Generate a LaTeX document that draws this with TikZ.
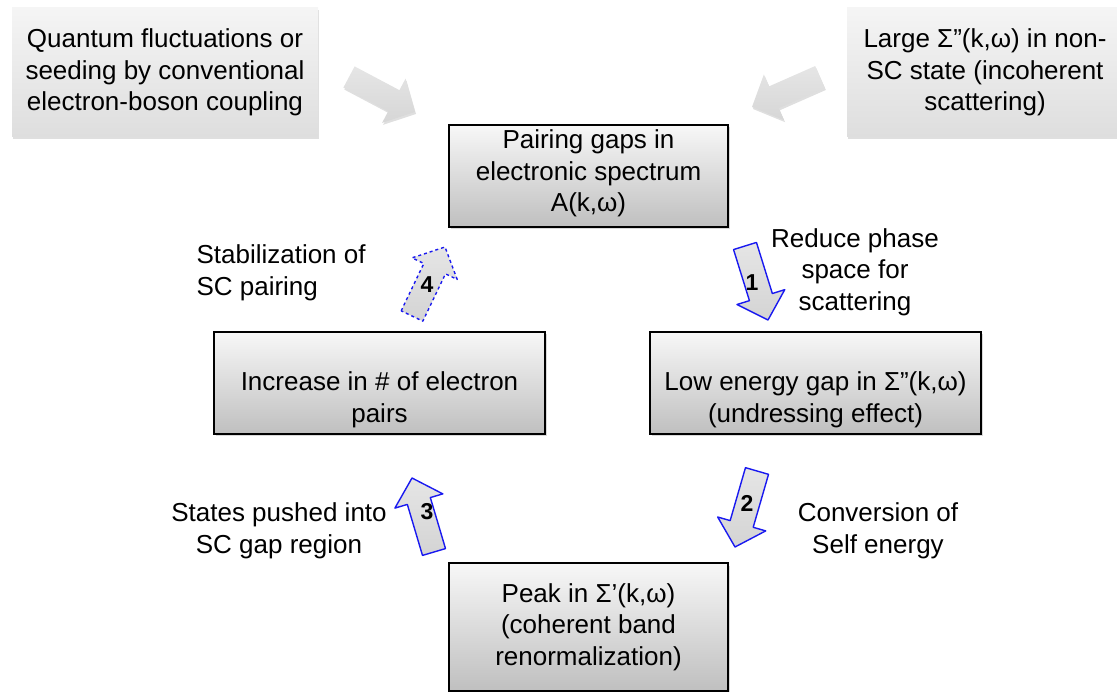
\documentclass[tikz,border=0pt]{standalone}
\usepackage{fontspec}
\setmainfont{Liberation Sans}
\usetikzlibrary{calc, shadows, positioning}

\definecolor{loopblue}{RGB}{25,25,240}

% sizes of the fat arrows
\newcommand{\shaftw}{12pt}
\newcommand{\headw}{25pt}
\newcommand{\headlen}{24pt}

% fat arrow from #2 to #3, drawn with style #1
\newcommand{\fatarrow}[3]{%
  \coordinate (fa-h) at ($(#3)!\headlen!(#2)$);
  \path[#1] ($(#2)!\shaftw!90:(#3)$) -- ($(fa-h)!\shaftw!90:(#3)$)
    -- ($(fa-h)!\headw!90:(#3)$) -- (#3) -- ($(fa-h)!\headw!-90:(#3)$)
    -- ($(fa-h)!\shaftw!-90:(#3)$) -- ($(#2)!\shaftw!-90:(#3)$) -- cycle;
}

\begin{document}
\begin{tikzpicture}[x=1pt, y=-1pt, font=\fontsize{26}{31.5}\selectfont,
    stage/.style={draw=black, line width=2.4pt, top color=black!3, bottom color=black!25,
      align=center, inner sep=0pt,
      drop shadow={shadow xshift=1.5pt, shadow yshift=-2.5pt, opacity=0.3}},
    source/.style={top color=black!4, bottom color=black!13, align=center, inner sep=0pt,
      drop shadow={shadow xshift=1pt, shadow yshift=-2pt, opacity=0.25}},
    greyarrow/.style={top color=black!10, bottom color=black!16,
      drop shadow={shadow xshift=1pt, shadow yshift=-2pt, opacity=0.25}},
    looparrow/.style={draw=loopblue, line width=1.4pt, line join=round,
      top color=black!10, bottom color=black!17},
    stepnum/.style={font=\fontsize{23}{23}\selectfont\bfseries},
    steplabel/.style={align=center}
]
\useasboundingbox (0,0) rectangle (1117,692);

% outside sources
\node[source, minimum width=306pt, minimum height=129pt] (fluct) at (165,72.5)
  {Quantum fluctuations or\\seeding by conventional\\electron-boson coupling};
\node[source, minimum width=290pt, minimum height=129pt] (scatt) at (992,72.5)
  {\hspace*{-14pt}Large Σ”(k,ω) in non-\\\hspace*{-14pt}SC state (incoherent\\\hspace*{-14pt}scattering)};

% the loop
\node[stage, minimum width=279pt, minimum height=102pt] (gaps) at (588.5,176)
  {Pairing gaps in\\electronic spectrum\\A(k,ω)\rule[-10pt]{0pt}{0pt}};
\node[stage, minimum width=331pt, minimum height=102pt] (undress) at (815.5,383)
  {\rule{0pt}{52pt}Low energy gap in Σ”(k,ω)\\(undressing effect)};
\node[stage, minimum width=279pt, minimum height=128pt] (peak) at (588.5,627)
  {Peak in Σ’(k,ω)\\(coherent band\\renormalization)};
\node[stage, minimum width=331pt, minimum height=102pt] (pairs) at (379.5,383)
  {\rule{0pt}{52pt}Increase in \# of electron\\pairs};

% arrow ends
\coordinate (g1s) at (349,77);  \coordinate (g1e) at (415,112);
\coordinate (g2s) at (820,77);  \coordinate (g2e) at (752,107);
\coordinate (a1s) at (745,246); \coordinate (a1e) at (768,320);
\coordinate (a2s) at (757,471); \coordinate (a2e) at (735,547);
\coordinate (a3s) at (434,552); \coordinate (a3e) at (412,478);
\coordinate (a4s) at (412,316); \coordinate (a4e) at (445,247);

\fatarrow{greyarrow}{g1s}{g1e}
\fatarrow{greyarrow}{g2s}{g2e}
\fatarrow{looparrow}{a1s}{a1e}
\fatarrow{looparrow}{a2s}{a2e}
\fatarrow{looparrow}{a3s}{a3e}
\fatarrow{looparrow, dashed}{a4s}{a4e}

\node[stepnum] (n1) at (752,283) {1};
\node[stepnum] (n2) at (747,503) {2};
\node[stepnum] (n3) at (427,512) {3};
\node[stepnum] (n4) at (427,285) {4};

\node[steplabel] (lab1) at (855,272) {Reduce phase\\space for\\scattering};
\node[steplabel] (lab2) at (878,531) {Conversion of\\Self energy};
\node[steplabel] (lab3) at (279,531) {States pushed into\\SC gap region};
\node[steplabel, align=left, anchor=west] (lab4) at (193,273) {Stabilization of\\SC pairing};
\end{tikzpicture}
\end{document}
